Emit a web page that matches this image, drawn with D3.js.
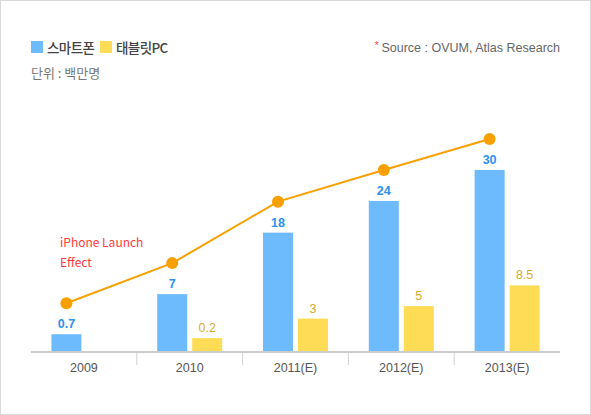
<!DOCTYPE html>
<html><head><meta charset="utf-8">
<script src="https://cdn.jsdelivr.net/npm/d3@7"></script>
<style>
html,body{margin:0;padding:0;background:#fff;}
svg{display:block;}
</style></head>
<body>
<script>
const categories = ["2009", "2010", "2011(E)", "2012(E)", "2013(E)"];
const smartphone = [0.7, 7, 18, 24, 30];
const tablet = [null, 0.2, 3, 5, 8.5];
const seriesNames = ["스마트폰", "태블릿PC"];

const W = 591, H = 415;
const svg = d3.select("body").append("svg").attr("width", W).attr("height", H);
const latin = "'Liberation Sans', Arial, sans-serif";
const kr = "'Noto Sans CJK KR', sans-serif";

svg.append("rect").attr("x", 0.5).attr("y", 0.5).attr("width", W - 1).attr("height", H - 1)
  .attr("fill", "#fff").attr("stroke", "#d9d9d9");

const base = 351;
const x = d3.scaleBand().domain(categories).range([31, 560]);
const y = d3.scalePow().exponent(0.9).domain([0, 30]).range([base - 11, 170]);
const barW = 30, gap = 5;

// axis
const axis = svg.append("g");
axis.append("line").attr("x1", 31).attr("x2", 560).attr("y1", base + 1).attr("y2", base + 1)
  .attr("stroke", "#cccccc").attr("stroke-width", 2);
axis.selectAll("line.sep").data(categories.slice(1)).join("line").attr("class", "sep")
  .attr("x1", d => x(d)).attr("x2", d => x(d)).attr("y1", base + 2).attr("y2", base + 14)
  .attr("stroke", "#d0d0d0");
axis.selectAll("text").data(categories).join("text")
  .attr("x", d => x(d) + x.bandwidth() / 2).attr("y", base + 21)
  .attr("text-anchor", "middle").attr("font-family", latin).attr("font-size", 12.5)
  .attr("fill", "#555").text(d => d);

const cx = d => x(d) + x.bandwidth() / 2;

// smartphone bars
svg.selectAll("rect.sp").data(categories).join("rect").attr("class", "sp")
  .attr("x", d => cx(d) - gap / 2 - barW).attr("width", barW)
  .attr("y", (d, i) => y(smartphone[i])).attr("height", (d, i) => base - y(smartphone[i]))
  .attr("fill", "#6dbafd");
svg.selectAll("text.spl").data(categories).join("text").attr("class", "spl")
  .attr("x", d => cx(d) - gap / 2 - barW / 2).attr("y", (d, i) => y(smartphone[i]) - 6)
  .attr("text-anchor", "middle").attr("font-family", latin).attr("font-weight", "bold")
  .attr("font-size", 12.5).attr("fill", "#2b90ee").text((d, i) => smartphone[i]);

// tablet bars
const tabData = categories.map((c, i) => ({ c, v: tablet[i] })).filter(d => d.v != null);
svg.selectAll("rect.tb").data(tabData).join("rect").attr("class", "tb")
  .attr("x", d => cx(d.c) + gap / 2).attr("width", barW)
  .attr("y", d => y(d.v)).attr("height", d => base - y(d.v))
  .attr("fill", "#ffdc55");
svg.selectAll("text.tbl").data(tabData).join("text").attr("class", "tbl")
  .attr("x", d => cx(d.c) + gap / 2 + barW / 2).attr("y", d => y(d.v) - 6)
  .attr("text-anchor", "middle").attr("font-family", latin)
  .attr("font-size", 12.5).attr("fill", "#d9aa2e").text(d => d.v);

// trend line above smartphone bars
const lineOffset = 31;
const pts = categories.map((c, i) => [cx(c) - gap / 2 - barW / 2, y(smartphone[i]) - lineOffset]);
svg.append("path").attr("d", d3.line()(pts)).attr("fill", "none")
  .attr("stroke", "#f7a000").attr("stroke-width", 2);
svg.selectAll("circle.pt").data(pts).join("circle").attr("class", "pt")
  .attr("cx", d => d[0]).attr("cy", d => d[1]).attr("r", 6).attr("fill", "#f7a000");

// annotation
const ann = svg.append("text").attr("font-family", kr).attr("font-size", 12)
  .attr("fill", "#ff3b3b");
ann.append("tspan").attr("x", 60).attr("y", 247).text("iPhone Launch");
ann.append("tspan").attr("x", 60).attr("y", 267).text("Effect");

// legend
const colors = ["#6dbafd", "#ffdc55"];
const legX = [31, 100];
seriesNames.forEach((n, i) => {
  svg.append("rect").attr("x", legX[i]).attr("y", 41).attr("width", 12).attr("height", 12).attr("fill", colors[i]);
  svg.append("text").attr("x", legX[i] + 16).attr("y", 53).attr("font-family", kr)
    .attr("font-size", 13.5).attr("font-weight", 500).attr("letter-spacing", -0.6)
    .attr("fill", "#444").text(n);
});
svg.append("text").attr("x", 31).attr("y", 78).attr("font-family", kr).attr("font-size", 13)
  .attr("fill", "#777").text("단위 : 백만명");

// source
const src = svg.append("text").attr("x", 560).attr("y", 52).attr("text-anchor", "end")
  .attr("font-family", latin).attr("font-size", 12.5).attr("fill", "#666");
src.append("tspan").attr("fill", "#ff4444").attr("font-size", 10).attr("dy", -3).text("* ");
src.append("tspan").attr("dy", 3).text("Source : OVUM, Atlas Research");
</script>
</body></html>
